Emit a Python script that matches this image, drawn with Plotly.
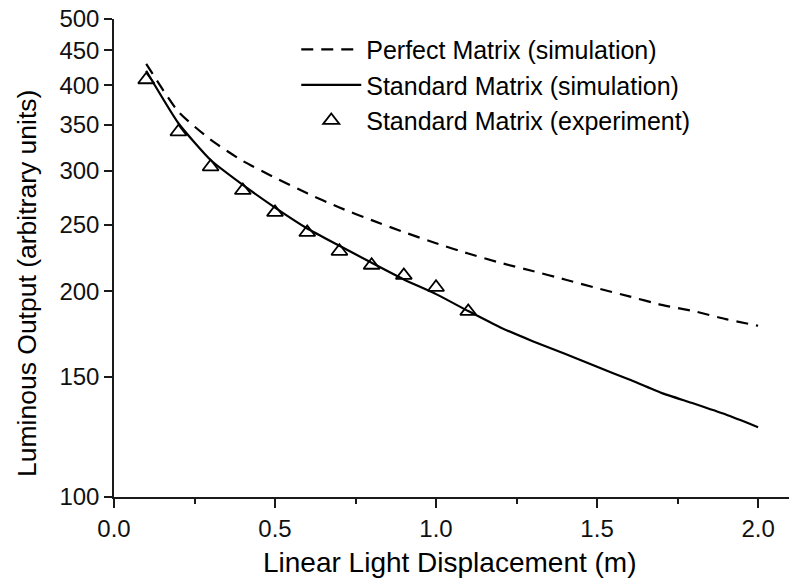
import plotly.graph_objects as go
import numpy as np

# Displacement of the light source (m)
x_sim = [0.1, 0.2, 0.3, 0.4, 0.5, 0.6, 0.7, 0.8, 0.9, 1.0,
         1.1, 1.2, 1.3, 1.4, 1.5, 1.6, 1.7, 1.8, 1.9, 2.0]

# Simulated luminous output, perfect matrix
perfect_sim = [430, 366, 333, 310, 293, 278, 265, 254, 244, 235,
               227, 220, 214, 208, 202, 196.5, 191, 187, 182, 178]

# Simulated luminous output, standard matrix
standard_sim = [420, 352, 311, 286, 265, 247, 233, 220, 208, 198,
                187, 177, 169, 162, 155, 148.5, 142, 137, 132, 126.5]

# Measured luminous output, standard matrix
x_exp = [0.1, 0.2, 0.3, 0.4, 0.5, 0.6, 0.7, 0.8, 0.9, 1.0, 1.1]
standard_exp = [407.5, 342, 304, 280.7, 260.7, 243.7, 228.7, 218.2, 210.9, 202.6, 186.8]

y_ticks = [100, 150, 200, 250, 300, 350, 400, 450, 500]
x_ticks = [0.0, 0.5, 1.0, 1.5, 2.0]
x_tick_text = ["0.0", "0.5", "1.0", "1.5", "2.0"]

FONT = "Liberation Sans, Arial, sans-serif"
AX = "#1a1a1a"
x_range = [0, 2.096]
y_range = [2, np.log10(500)]

fig = go.Figure()
fig.add_trace(go.Scatter(
    x=x_sim, y=perfect_sim, mode="lines", name="Perfect Matrix (simulation)",
    line=dict(color="black", width=2.2, dash="12px,8px", shape="spline", smoothing=0.6)))
fig.add_trace(go.Scatter(
    x=x_sim, y=standard_sim, mode="lines", name="Standard Matrix (simulation)",
    line=dict(color="black", width=2.2, shape="spline", smoothing=0.5)))
fig.add_trace(go.Scatter(
    x=x_exp, y=standard_exp, mode="markers", name="Standard Matrix (experiment)",
    marker=dict(symbol="triangle-up-open", size=14, color="black",
                line=dict(color="black", width=1.8))))

# Axis titles placed as annotations for exact positioning
fig.add_annotation(text="Linear Light Displacement (m)", xref="paper", yref="paper",
                   x=0.4985, y=-0.138, xanchor="center", yanchor="middle",
                   showarrow=False, font=dict(size=28, family=FONT, color="black"))
fig.add_annotation(text="Luminous Output (arbitrary units)", xref="paper", yref="paper",
                   x=-0.1289, y=0.4477, xanchor="center", yanchor="middle", textangle=-90,
                   showarrow=False, font=dict(size=26.5, family=FONT, color="black"))

fig.update_layout(
    width=789, height=580,
    margin=dict(l=114, r=0, t=19, b=83),
    paper_bgcolor="white", plot_bgcolor="white",
    font=dict(family=FONT, color="black"),
    showlegend=True,
    legend=dict(x=0.27, y=0.984, xanchor="left", yanchor="top",
                bgcolor="rgba(0,0,0,0)", itemwidth=60,
                font=dict(size=25, family=FONT, color="black"),
                tracegroupgap=0, itemsizing="trace"),
    xaxis=dict(
        range=x_range, tickvals=x_ticks, ticktext=x_tick_text,
        ticks="outside", ticklen=9, tickwidth=1.5, tickcolor=AX,
        minor=dict(dtick=0.25, ticks="outside", ticklen=5, tickwidth=1.5, tickcolor=AX),
        showline=True, linecolor=AX, linewidth=1.5, showgrid=False, zeroline=False,
        tickfont=dict(size=24, color="#111")),
    yaxis=dict(
        type="log", range=y_range, tickvals=y_ticks,
        ticktext=[str(v) for v in y_ticks],
        ticks="outside", ticklen=8, tickwidth=1.5, tickcolor=AX,
        showline=True, linecolor=AX, linewidth=1.5, showgrid=False, zeroline=False,
        tickfont=dict(size=24, color="#111")),
    xaxis2=dict(
        overlaying="x", anchor="y", side="top", range=x_range, tickvals=x_ticks,
        showticklabels=False, ticks="inside", ticklen=9, tickwidth=1.5, tickcolor=AX,
        minor=dict(dtick=0.25, ticks="inside", ticklen=5, tickwidth=1.5, tickcolor=AX),
        showline=True, linecolor=AX, linewidth=1.5, showgrid=False, zeroline=False),
    yaxis2=dict(
        overlaying="y", anchor="x", side="right", type="log", range=y_range,
        tickvals=y_ticks, showticklabels=False, ticks="inside", ticklen=8,
        tickwidth=1.5, tickcolor=AX, showline=True, linecolor=AX, linewidth=1.5,
        showgrid=False, zeroline=False),
)

fig.write_html("out.html")
